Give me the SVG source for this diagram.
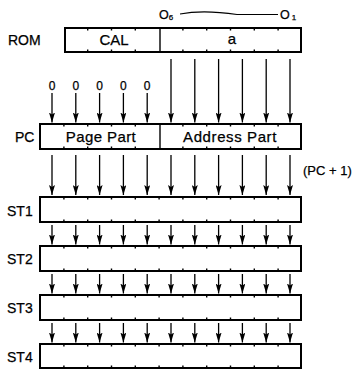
<svg xmlns="http://www.w3.org/2000/svg" width="354" height="369" viewBox="0 0 354 369">
<defs>
<marker id="ah" viewBox="0 0 10 6" refX="10" refY="3" markerWidth="10" markerHeight="6" markerUnits="userSpaceOnUse" orient="auto">
<path d="M0,0 L10,3 L0,6 L2,3 Z" fill="#000"/>
</marker>
<style>
text{font-family:"Liberation Sans",Arial,sans-serif;fill:#000;stroke:#000;stroke-width:0.25}
.box{fill:#fff;stroke:#000;stroke-width:2}
.div{stroke:#000;stroke-width:1.4}
.tick{stroke:#000;stroke-width:1.4}
.arr{stroke:#000;stroke-width:1.3;fill:none;marker-end:url(#ah)}
.lbl{font-size:14px}
.in{font-size:15px;text-anchor:middle}
.z{font-size:12px;text-anchor:middle;fill:#000}
</style>
</defs>
<rect width="354" height="369" fill="#fff"/>

<g id="bits-label">
<text x="159" y="18.5" font-size="12.5">O<tspan font-size="8" dy="1.5">6</tspan></text>
<path d="M180,14 Q203,9.5 237,14.5 L278,14.5" fill="none" stroke="#000" stroke-width="1.1"/>
<text x="280" y="18.5" font-size="12.5">O<tspan font-size="8" dy="1.5" dx="2">1</tspan></text>
</g>

<g id="ROM">
<text class="lbl" x="8" y="45">ROM</text>
<rect class="box" x="65" y="28" width="236" height="24"/>
<line class="div" x1="160" y1="28" x2="160" y2="52"/>
<path class="tick" d="M87.7,28v2.5M111.5,28v2.5M135.3,28v2.5M182.9,28v2.5M206.7,28v2.5M230.5,28v2.5M254.3,28v2.5M278.1,28v2.5M87.7,52v-2.5M111.5,52v-2.5M135.3,52v-2.5M182.9,52v-2.5M206.7,52v-2.5M230.5,52v-2.5M254.3,52v-2.5M278.1,52v-2.5"/>
<text class="in" x="114" y="45" font-size="14">CAL</text>
<text class="in" x="232" y="44">a</text>
</g>

<g id="zeros">
<text class="z" x="52" y="90">0</text>
<text class="z" x="75.8" y="90">0</text>
<text class="z" x="99.6" y="90">0</text>
<text class="z" x="123.4" y="90">0</text>
<text class="z" x="147.2" y="90">0</text>
</g>

<g id="PC">
<text class="lbl" x="15" y="142" font-size="13">PC</text>
<rect class="box" x="40" y="124" width="261" height="25"/>
<line class="div" x1="160" y1="124" x2="160" y2="149"/>
<path class="tick" d="M63.9,124v2.5M87.7,124v2.5M111.5,124v2.5M135.3,124v2.5M182.9,124v2.5M206.7,124v2.5M230.5,124v2.5M254.3,124v2.5M278.1,124v2.5M63.9,149v-2.5M87.7,149v-2.5M111.5,149v-2.5M135.3,149v-2.5M182.9,149v-2.5M206.7,149v-2.5M230.5,149v-2.5M254.3,149v-2.5M278.1,149v-2.5"/>
<text class="in" x="101" y="142" letter-spacing="0.4">Page Part</text>
<text class="in" x="230" y="142" letter-spacing="0.6">Address Part</text>
</g>

<text x="303" y="175" font-size="13">(PC + 1)</text>

<g id="ST1">
<text class="lbl" x="7" y="216">ST1</text>
<rect class="box" x="40" y="197" width="261" height="25"/>
<path class="tick" d="M63.9,197v2.5M87.7,197v2.5M111.5,197v2.5M135.3,197v2.5M159.1,197v2.5M182.9,197v2.5M206.7,197v2.5M230.5,197v2.5M254.3,197v2.5M278.1,197v2.5M63.9,222v-2.5M87.7,222v-2.5M111.5,222v-2.5M135.3,222v-2.5M159.1,222v-2.5M182.9,222v-2.5M206.7,222v-2.5M230.5,222v-2.5M254.3,222v-2.5M278.1,222v-2.5"/>
</g>
<g id="ST2">
<text class="lbl" x="7" y="264">ST2</text>
<rect class="box" x="40" y="246" width="261" height="25"/>
<path class="tick" d="M63.9,246v2.5M87.7,246v2.5M111.5,246v2.5M135.3,246v2.5M159.1,246v2.5M182.9,246v2.5M206.7,246v2.5M230.5,246v2.5M254.3,246v2.5M278.1,246v2.5M63.9,271v-2.5M87.7,271v-2.5M111.5,271v-2.5M135.3,271v-2.5M159.1,271v-2.5M182.9,271v-2.5M206.7,271v-2.5M230.5,271v-2.5M254.3,271v-2.5M278.1,271v-2.5"/>
</g>
<g id="ST3">
<text class="lbl" x="7" y="313">ST3</text>
<rect class="box" x="40" y="295" width="261" height="25"/>
<path class="tick" d="M63.9,295v2.5M87.7,295v2.5M111.5,295v2.5M135.3,295v2.5M159.1,295v2.5M182.9,295v2.5M206.7,295v2.5M230.5,295v2.5M254.3,295v2.5M278.1,295v2.5M63.9,320v-2.5M87.7,320v-2.5M111.5,320v-2.5M135.3,320v-2.5M159.1,320v-2.5M182.9,320v-2.5M206.7,320v-2.5M230.5,320v-2.5M254.3,320v-2.5M278.1,320v-2.5"/>
</g>
<g id="ST4">
<text class="lbl" x="7" y="362">ST4</text>
<rect class="box" x="40" y="344" width="261" height="24"/>
<path class="tick" d="M63.9,344v2.5M87.7,344v2.5M111.5,344v2.5M135.3,344v2.5M159.1,344v2.5M182.9,344v2.5M206.7,344v2.5M230.5,344v2.5M254.3,344v2.5M278.1,344v2.5M63.9,368v-2.5M87.7,368v-2.5M111.5,368v-2.5M135.3,368v-2.5M159.1,368v-2.5M182.9,368v-2.5M206.7,368v-2.5M230.5,368v-2.5M254.3,368v-2.5M278.1,368v-2.5"/>
</g>

<g id="connectors">
<path class="arr" d="M171,59V122.5"/>
<path class="arr" d="M194.8,59V122.5"/>
<path class="arr" d="M218.6,59V122.5"/>
<path class="arr" d="M242.4,59V122.5"/>
<path class="arr" d="M266.2,59V122.5"/>
<path class="arr" d="M290,59V122.5"/>
<path class="arr" d="M52,93V122.5"/>
<path class="arr" d="M75.8,93V122.5"/>
<path class="arr" d="M99.6,93V122.5"/>
<path class="arr" d="M123.4,93V122.5"/>
<path class="arr" d="M147.2,93V122.5"/>
<path class="arr" d="M52,155V195"/>
<path class="arr" d="M75.8,155V195"/>
<path class="arr" d="M99.6,155V195"/>
<path class="arr" d="M123.4,155V195"/>
<path class="arr" d="M147.2,155V195"/>
<path class="arr" d="M171,155V195"/>
<path class="arr" d="M194.8,155V195"/>
<path class="arr" d="M218.6,155V195"/>
<path class="arr" d="M242.4,155V195"/>
<path class="arr" d="M266.2,155V195"/>
<path class="arr" d="M290,155V195"/>
<path class="arr" d="M52,225V244.5"/>
<path class="arr" d="M75.8,225V244.5"/>
<path class="arr" d="M99.6,225V244.5"/>
<path class="arr" d="M123.4,225V244.5"/>
<path class="arr" d="M147.2,225V244.5"/>
<path class="arr" d="M171,225V244.5"/>
<path class="arr" d="M194.8,225V244.5"/>
<path class="arr" d="M218.6,225V244.5"/>
<path class="arr" d="M242.4,225V244.5"/>
<path class="arr" d="M266.2,225V244.5"/>
<path class="arr" d="M290,225V244.5"/>
<path class="arr" d="M52,274V293.5"/>
<path class="arr" d="M75.8,274V293.5"/>
<path class="arr" d="M99.6,274V293.5"/>
<path class="arr" d="M123.4,274V293.5"/>
<path class="arr" d="M147.2,274V293.5"/>
<path class="arr" d="M171,274V293.5"/>
<path class="arr" d="M194.8,274V293.5"/>
<path class="arr" d="M218.6,274V293.5"/>
<path class="arr" d="M242.4,274V293.5"/>
<path class="arr" d="M266.2,274V293.5"/>
<path class="arr" d="M290,274V293.5"/>
<path class="arr" d="M52,323V342.5"/>
<path class="arr" d="M75.8,323V342.5"/>
<path class="arr" d="M99.6,323V342.5"/>
<path class="arr" d="M123.4,323V342.5"/>
<path class="arr" d="M147.2,323V342.5"/>
<path class="arr" d="M171,323V342.5"/>
<path class="arr" d="M194.8,323V342.5"/>
<path class="arr" d="M218.6,323V342.5"/>
<path class="arr" d="M242.4,323V342.5"/>
<path class="arr" d="M266.2,323V342.5"/>
<path class="arr" d="M290,323V342.5"/>
</g>
</svg>
